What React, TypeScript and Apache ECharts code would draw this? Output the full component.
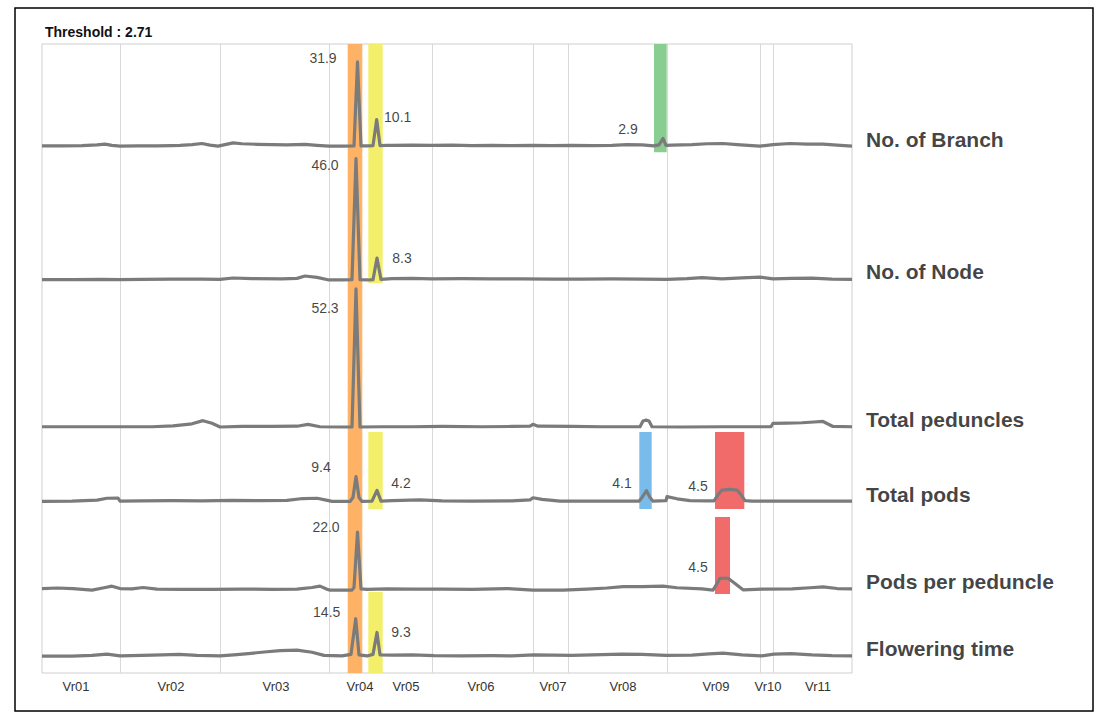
import React, { useEffect, useRef } from "react";
import * as echarts from "echarts";

// ---------------- data ----------------
const threshold = 2.71;
const traits = ["No. of Branch", "No. of Node", "Total peduncles", "Total pods", "Pods per peduncle", "Flowering time"];
const chromosomes = ["Vr01", "Vr02", "Vr03", "Vr04", "Vr05", "Vr06", "Vr07", "Vr08", "Vr09", "Vr10", "Vr11"];
const chromLabelPos = [34, 129, 234, 318, 364, 439, 511, 581, 674, 726, 776];
const chromBoundaries = [78, 178, 287, 390, 491, 526, 625, 718, 731];
const genomeLength = 810;

const lodBranch: number[][] = [
  [0, 0.1], [20, 0.1], [40, 0.2], [55, 0.5], [63, 0.75], [70, 0.3], [78, 0.0], [95, 0.1], [115, 0.1], [130, 0.2],
  [138, 0.3], [150, 0.6], [160, 1.0], [168, 0.4], [176, 0.0], [183, 0.6], [191, 1.25], [200, 0.9], [215, 0.7],
  [230, 0.6], [245, 0.5], [263, 0.7], [275, 0.3], [287, 0.0], [300, 0.0], [312, 0.1], [315.5, 31.9], [319, 0.1],
  [326, 0.1], [331, 0.2], [334.7, 10.1], [338, 0.2], [345, 0.3], [350, 0.3], [370, 0.4], [390, 0.3], [410, 0.4],
  [430, 0.2], [450, 0.3], [470, 0.2], [491, 0.3], [510, 0.2], [530, 0.3], [550, 0.2], [570, 0.3], [585, 0.6],
  [600, 0.5], [612, 0.1], [617, 0.5], [621, 2.9], [624, 0.3], [630, 0.4], [650, 0.6], [665, 0.9], [681, 1.0],
  [695, 0.6], [710, 0.2], [718, 0.0], [725, 0.3], [731, 0.6], [748, 1.0], [765, 0.8], [781, 0.75], [795, 0.4], [810, 0.0],
];
const lodNode: number[][] = [
  [0, 0.1], [30, 0.1], [60, 0.2], [78, 0.1], [100, 0.2], [130, 0.3], [160, 0.3], [178, 0.2], [191, 0.75], [210, 0.5],
  [240, 0.4], [255, 0.6], [263, 1.5], [275, 1.0], [287, 0.0], [300, 0.0], [310, 0.1], [314, 46.0], [318, 0.1],
  [326, 0.0], [331, 0.1], [335, 8.3], [339, 0.2], [350, 0.5], [370, 0.6], [390, 0.4], [420, 0.5], [450, 0.4],
  [480, 0.4], [510, 0.3], [540, 0.3], [570, 0.4], [600, 0.3], [625, 0.2], [645, 0.5], [660, 0.9], [680, 0.4],
  [700, 0.8], [718, 1.1], [731, 0.4], [750, 0.6], [770, 0.7], [790, 0.3], [810, 0.2],
];
const lodPeduncles: number[][] = [
  [0, 0.1], [40, 0.1], [78, 0.1], [110, 0.1], [131, 0.4], [150, 1.2], [161, 2.4], [170, 1.4], [178, 0.0], [200, 0.2],
  [230, 0.2], [255, 0.3], [266, 1.0], [278, 0.1], [300, 0.0], [310, 0.0], [314, 52.3], [318, 0.0], [340, 0.1],
  [370, 0.1], [400, 0.2], [440, 0.1], [470, 0.2], [488, 0.3], [491, 1.0], [496, 0.3], [530, 0.2], [560, 0.1],
  [598, 0.1], [601, 2.3], [604, 2.6], [607, 2.3], [610, 0.1], [640, 0.0], [680, 0.1], [729, 0.1], [731, 1.4],
  [745, 1.5], [760, 1.6], [772, 1.9], [781, 2.1], [791, 0.2], [810, 0.1],
];
const lodPods: number[][] = [
  [0, 0.0], [30, 0.1], [55, 0.5], [65, 1.2], [76, 1.3], [78, 0.1], [100, 0.2], [130, 0.3], [160, 0.2], [190, 0.4],
  [220, 0.3], [245, 0.4], [261, 1.1], [275, 1.2], [283, 0.6], [290, 0.0], [308, 0.0], [311, 1.5], [314, 9.4],
  [317, 1.5], [320, 0.0], [330, 0.1], [335, 4.2], [339, 0.1], [350, 0.3], [378, 0.6], [400, 0.2], [430, 0.1],
  [470, 0.2], [488, 0.6], [491, 1.4], [500, 0.8], [518, 0.1], [550, 0.1], [597, 0.1], [600, 1.5], [604.5, 4.1],
  [608, 1.5], [611, 0.1], [624, 0.3], [625, 1.8], [635, 1.0], [648, 0.3], [665, 0.2], [672, 0.2], [676, 2.5],
  [680, 4.3], [688, 4.6], [695, 4.3], [699, 2.5], [703, 0.3], [710, 0.1], [740, 0.1], [780, 0.1], [810, 0.1],
];
const lodPodsPerPeduncle: number[][] = [
  [0, 0.6], [15, 0.8], [31, 0.6], [50, 0.0], [62, 0.9], [70, 1.5], [78, 0.6], [90, 0.5], [101, 1.0], [115, 0.4],
  [140, 0.3], [170, 0.3], [200, 0.4], [230, 0.3], [255, 0.4], [270, 1.0], [278, 1.5], [285, 0.3], [288, 0.0],
  [310, 0.0], [312, 1.0], [315.5, 22.0], [319, 0.5], [325, 0.3], [345, 0.5], [370, 0.4], [400, 0.4], [430, 0.3],
  [465, 0.6], [491, 0.0], [521, 0.0], [545, 0.4], [565, 0.8], [581, 1.3], [600, 1.3], [621, 1.5], [635, 0.9],
  [660, 0.5], [671, 0.0], [675, 2.5], [678, 4.5], [686, 4.5], [693, 2.5], [701, 0.1], [720, 0.4], [750, 0.5],
  [768, 0.9], [781, 1.2], [795, 0.6], [810, 0.5],
];
const lodFlowering: number[][] = [
  [0, 0.3], [30, 0.3], [50, 0.6], [65, 1.1], [78, 0.4], [100, 0.6], [120, 0.8], [137, 1.0], [155, 0.6], [178, 0.4],
  [195, 0.9], [209, 1.4], [225, 2.0], [238, 2.4], [255, 2.6], [270, 1.8], [282, 0.6], [300, 0.4], [309, 1.0],
  [313.7, 14.5], [317, 0.8], [325, 0.4], [331, 1.0], [335, 9.3], [338, 0.8], [350, 0.7], [370, 0.8], [392, 0.5],
  [420, 0.4], [450, 0.5], [470, 0.4], [492, 0.8], [510, 0.7], [530, 0.6], [560, 0.9], [580, 1.1], [600, 1.0],
  [624, 0.6], [650, 0.7], [667, 1.2], [681, 1.5], [700, 0.8], [719, 0.4], [732, 1.1], [749, 1.3], [770, 0.8],
  [790, 0.5], [810, 0.4],
];
const traces = [lodBranch, lodNode, lodPeduncles, lodPods, lodPodsPerPeduncle, lodFlowering];

// labelled QTL peaks
const peakTrait = [0, 0, 0, 1, 1, 2, 3, 3, 3, 3, 4, 4, 5, 5];
const peakPos = [315.5, 334.7, 621, 314, 335, 314, 314, 335, 604.5, 688, 315.5, 682, 313.7, 335];
const peakLod = [31.9, 10.1, 2.9, 46.0, 8.3, 52.3, 9.4, 4.2, 4.1, 4.5, 22.0, 4.5, 14.5, 9.3];

// QTL highlight regions: trait rows from..to, start..end position
const bandFrom = [0, 0, 3, 5, 0, 3, 3, 4];
const bandTo = [5, 1, 3, 5, 0, 3, 3, 4];
const bandStart = [305.7, 326.3, 326.3, 326.3, 612, 597.3, 673, 673];
const bandEnd = [320.3, 340.7, 340.7, 340.7, 624.7, 609.7, 702.3, 688];
const bandColorIdx = [0, 1, 1, 1, 2, 3, 4, 4];

// ---------------- layout / style ----------------
const bandColors = ["#FDB266", "#F3EF6B", "#8ACD91", "#79BCEB", "#F26B6B"];
const yMax = 238.3;
const rowBase = [199.6, 148.9, 93.2, 65.0, 31.4, 6.06];
const rowSpan = [
  [197.3, 238.3],
  [147.7, 197.3],
  [91.3, 147.7],
  [62.1, 91.3],
  [29.9, 59.1],
  [0, 30.7],
];
const peakLabelOffset = [
  [-34.5, -4], [21, -2], [-35, -9], [-31, 6], [25, 0], [-31, 19], [-35, -10],
  [24, -7], [-24.5, -8], [-32, -4], [-31.5, -5], [-26, -11], [-29, -7], [24, 0],
];
const nameLabelDy = [-7, -8, -7, -6.5, -9, -9];
const FONT = "'Liberation Sans', Arial, Helvetica, sans-serif";

export default function App() {
  const ref = useRef<HTMLDivElement>(null);
  useEffect(() => {
    if (!ref.current) return;
    const chart = echarts.init(ref.current, undefined, { renderer: "svg" });

    const bandData = bandFrom.map((f, i) => [
      {
        coord: [bandStart[i], rowSpan[bandTo[i]][0]],
        itemStyle: { color: bandColors[bandColorIdx[i]], opacity: 1 },
      },
      { coord: [bandEnd[i], rowSpan[f][1]] },
    ]);

    const traceSeries = traces.map((tr, i) => ({
      type: "line",
      name: traits[i],
      data: tr.map(([x, l]) => [x, rowBase[i] + l]),
      showSymbol: false,
      symbol: "none",
      silent: true,
      z: 5,
      lineStyle: { color: "#7b7b7b", width: 3.2, join: "round" },
    }));

    const option: any = {
      animation: false,
      title: {
        text: `Threshold : ${threshold}`,
        left: 45,
        top: 25,
        padding: 0,
        textStyle: { fontFamily: FONT, fontSize: 14, fontWeight: "bold", color: "#111" },
      },
      graphic: [
        {
          type: "rect",
          shape: { x: 15, y: 8, width: 1078, height: 703 },
          style: { fill: "none", stroke: "#000", lineWidth: 1.5 },
          silent: true,
        },
      ],
      grid: {
        left: 42,
        right: 1101 - 852,
        top: 44,
        bottom: 715 - 673,
        show: true,
        borderColor: "#cfcfcf",
        borderWidth: 1,
      },
      xAxis: {
        type: "value",
        min: 0,
        max: genomeLength,
        axisLine: { show: false },
        axisTick: { show: false },
        splitLine: { show: false },
        axisLabel: {
          customValues: chromLabelPos,
          formatter: (v: number) => {
            const k = chromLabelPos.indexOf(v);
            return k >= 0 ? chromosomes[k] : "";
          },
          margin: 7,
          fontSize: 13,
          fontFamily: FONT,
          color: "#333",
          hideOverlap: false,
        },
      },
      yAxis: { type: "value", min: 0, max: yMax, show: false },
      series: [
        {
          type: "line",
          data: [],
          silent: true,
          z: 1,
          markArea: { silent: true, data: bandData },
        },
        {
          type: "line",
          data: [],
          silent: true,
          z: 2,
          markLine: {
            silent: true,
            symbol: ["none", "none"],
            label: { show: false },
            lineStyle: { color: "#d9d9d9", width: 1, type: "solid" },
            data: chromBoundaries.map((v) => ({ xAxis: v })),
          },
        },
        ...traceSeries,
        {
          type: "scatter",
          symbolSize: 0,
          silent: true,
          z: 6,
          data: peakPos.map((p, k) => ({
            name: peakLod[k].toFixed(1),
            value: [p, rowBase[peakTrait[k]] + peakLod[k]],
            label: { offset: peakLabelOffset[k] },
          })),
          label: {
            show: true,
            position: "inside",
            formatter: "{b}",
            fontFamily: FONT,
            fontSize: 14,
            color: "#111",
          },
        },
        {
          type: "scatter",
          symbolSize: 0,
          silent: true,
          z: 6,
          data: traits.map((t, i) => ({
            name: t,
            value: [genomeLength, rowBase[i]],
            label: { offset: [0, nameLabelDy[i]] },
          })),
          label: {
            show: true,
            position: "right",
            distance: 14,
            formatter: "{b}",
            fontFamily: FONT,
            fontSize: 21,
            fontWeight: "bold",
            color: "#111",
          },
        },
      ],
    };
    chart.setOption(option);
    return () => chart.dispose();
  }, []);

  return (
    <div
      ref={ref}
      style={{ position: "absolute", left: 0, top: 0, width: 1101, height: 715, background: "#fff" }}
    />
  );
}
